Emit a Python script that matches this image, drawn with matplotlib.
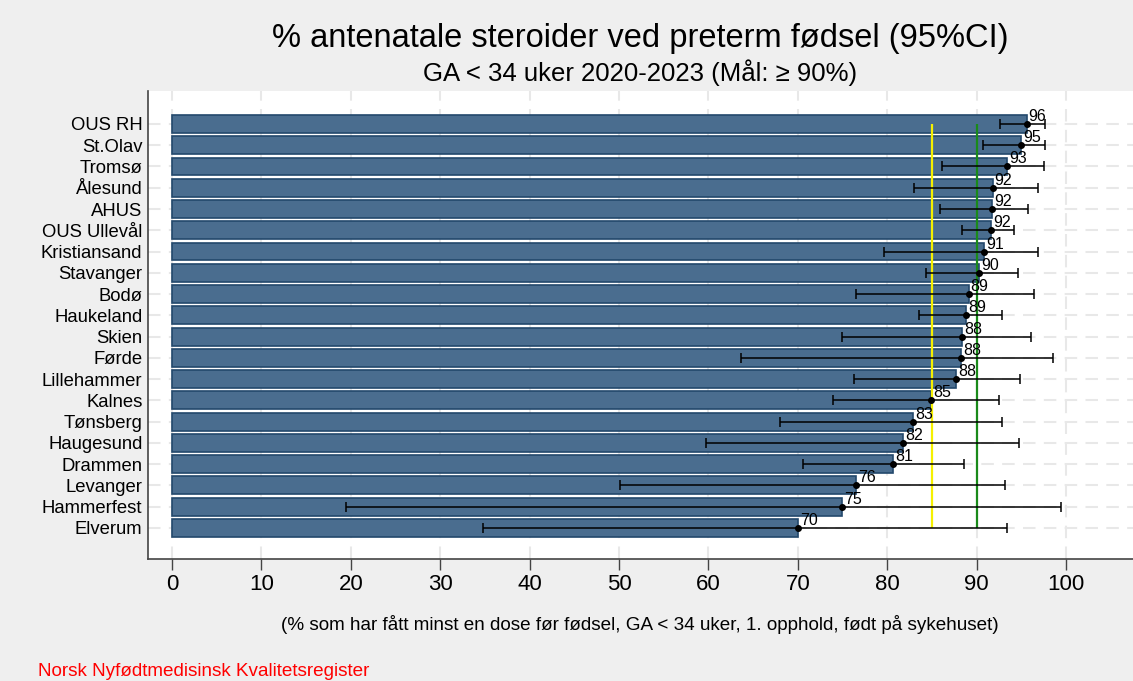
import matplotlib
matplotlib.use("Agg")
import matplotlib.pyplot as plt
import numpy as np

plt.rcParams['font.family'] = ['Liberation Sans', 'DejaVu Sans']

hospitals = ["OUS RH", "St.Olav", "Tromsø", "Ålesund", "AHUS", "OUS Ullevål",
             "Kristiansand", "Stavanger", "Bodø", "Haukeland", "Skien", "Førde",
             "Lillehammer", "Kalnes", "Tønsberg", "Haugesund", "Drammen",
             "Levanger", "Hammerfest", "Elverum"]
pct = [95.6, 95.0, 93.4, 91.8, 91.7, 91.6, 90.8, 90.3, 89.1, 88.8, 88.4, 88.3,
       87.7, 84.9, 82.9, 81.8, 80.7, 76.5, 75.0, 70.0]
ci_low = [92.6, 90.7, 86.1, 83.0, 85.9, 88.4, 79.7, 84.3, 76.5, 83.6, 74.9, 63.6,
          76.3, 73.9, 68.0, 59.7, 70.6, 50.1, 19.5, 34.8]
ci_high = [97.7, 97.7, 97.5, 96.9, 95.7, 94.2, 96.9, 94.6, 96.4, 92.9, 96.1, 98.5,
           94.9, 92.5, 92.8, 94.8, 88.6, 93.2, 99.4, 93.4]
labels = ["96", "95", "93", "92", "92", "92", "91", "90", "89", "89", "88", "88",
          "88", "85", "83", "82", "81", "76", "75", "70"]
national_level = 85
target = 90
xticks = list(range(0, 101, 10))

bg = "#efefef"
fig = plt.figure(figsize=(11.33, 6.81), dpi=100, facecolor=bg)
ax = fig.add_axes([148 / 1133, 122 / 681, 1 - 148 / 1133, 468 / 681])
ax.set_facecolor("white")

y = np.arange(len(hospitals))
pct = np.array(pct)
err = [pct - np.array(ci_low), np.array(ci_high) - pct]

# grid first so bars sit on top
for xv in xticks:
    ax.axvline(xv, color="#e8e8e8", lw=1.5, ls=(0, (6, 4)), zorder=0)
for yv in y:
    ax.axhline(yv, color="#e8e8e8", lw=1.5, ls=(0, (6, 4)), zorder=0)

ax.barh(y, pct, height=0.84, color="#4a6d8f", edgecolor="#23486c",
        linewidth=1.2, zorder=2)

ax.vlines(national_level, y[0], y[-1], color="#f5f000", lw=1.6, zorder=3)
ax.vlines(target, y[0], y[-1], color="#1a8a1a", lw=1.6, zorder=3)

ax.errorbar(pct, y, xerr=err, fmt="o", color="black", ms=4, elinewidth=1.1,
            capsize=3.8, capthick=1.1, zorder=4)

for yi, v, lab in zip(y, pct, labels):
    ax.annotate(lab, (v, yi), xytext=(1.5, 0), textcoords="offset points",
                ha="left", va="bottom", fontsize=11.5, zorder=5)

ax.set_yticks(y)
ax.set_yticklabels(hospitals, fontsize=13.3)
ax.set_ylim(len(hospitals) - 1 + 1.46, -1.55)
ax.set_xlim(-2.68, 107.5)
ax.set_xticks(xticks)
ax.tick_params(axis="x", labelsize=16, length=8, width=1, color="#444444", pad=3)
ax.tick_params(axis="y", length=0, pad=4)

for s in ["top", "right"]:
    ax.spines[s].set_visible(False)
for s in ["left", "bottom"]:
    ax.spines[s].set_color("#444444")
    ax.spines[s].set_linewidth(1.2)

fig.text(0.5647, 1 - 38 / 681, "% antenatale steroider ved preterm fødsel (95%CI)",
         ha="center", va="center", fontsize=23.5)
fig.text(0.5647, 1 - 73 / 681, "GA < 34 uker 2020-2023 (Mål: ≥ 90%)",
         ha="center", va="center", fontsize=18.5)
fig.text(0.5647, 1 - 624 / 681,
         "(% som har fått minst en dose før fødsel, GA < 34 uker, 1. opphold, født på sykehuset)",
         ha="center", va="center", fontsize=13.6)
fig.text(38 / 1133, 1 - 671 / 681, "Norsk Nyfødtmedisinsk Kvalitetsregister",
         ha="left", va="center", fontsize=13.6, color="red")

fig.savefig("out.png", dpi=100, facecolor=bg)
